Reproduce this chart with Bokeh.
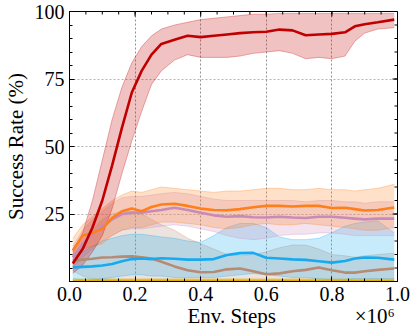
import math
from bokeh.plotting import figure
from bokeh.models import Range1d, ColumnDataSource, FixedTicker
from bokeh.embed import file_html
from bokeh.resources import INLINE

FONT = "Liberation Serif"

steps = [0.01, 0.04, 0.07, 0.10, 0.13, 0.16, 0.19, 0.22, 0.25, 0.28, 0.32, 0.36, 0.40, 0.44,
         0.48, 0.52, 0.56, 0.60, 0.64, 0.68, 0.72, 0.76, 0.80, 0.84, 0.87, 0.90, 0.94, 0.99]

red_mean = [6.7, 12, 20, 30, 43, 57, 70, 78, 84, 88, 89.5, 91, 90.5, 91, 91.5, 92, 92.3, 92.5,
            93.3, 93, 91.2, 91.5, 91.7, 92.3, 94.5, 95.3, 96, 97]
red_hi = [11, 18, 30, 45, 60, 72, 81, 87, 91, 93.5, 95, 96, 97, 97.5, 98, 98.5, 99, 99,
          99.3, 99.3, 99.3, 99.3, 99.3, 99.3, 99.3, 99.3, 99.3, 99.3]
red_lo = [3, 6, 11, 17, 27, 40, 52, 63, 73, 78, 82, 84, 83, 83, 83, 83.5, 84.5, 85,
          85.5, 84.5, 82.5, 83, 82.5, 83.5, 89, 92, 93.5, 94]

orange_mean = [11.5, 17, 18, 19.5, 23.5, 26, 27, 26, 27.6, 28.5, 28.8, 28, 27, 26.5, 26.4, 26.8,
               27.5, 28, 28, 27.8, 28, 28, 27.2, 27.3, 26.8, 26.3, 26.5, 27.4]
orange_hi = [16, 21, 24, 27, 30, 32, 33.5, 33, 34, 35, 34.5, 34, 33.5, 33, 33.5, 33.5, 34, 34.5,
             34.5, 34, 34, 34.5, 34, 34, 33.5, 34, 34.5, 36]
orange_lo = [9, 12, 13, 14, 17, 19, 20, 20, 21, 22, 22, 21.5, 21, 20, 19.5, 20, 21, 21.5,
             21, 21, 21.5, 21, 20.5, 20, 19.5, 19, 19, 20]

pink_mean = [9, 14, 17.5, 20.5, 23, 25, 25.5, 25.5, 26, 26.5, 27.3, 26.5, 25.5, 24.5, 24, 24.2,
             23.8, 23.7, 24, 23.7, 23.5, 24, 24, 23.6, 23.3, 23, 23.3, 23.3]
pink_hi = [13, 19, 23, 26, 29, 31, 31.5, 31.5, 32, 32.5, 33, 32.5, 31.5, 30.5, 30, 30, 30, 30,
           30, 30, 29.5, 30, 30, 29.5, 29.5, 29, 29.5, 29.5]
pink_lo = [5, 9, 12, 15, 17, 19, 19.5, 19.5, 20, 20.5, 21, 20.5, 19.5, 18.5, 17, 16, 15.5, 16,
           17, 17.5, 17.5, 18, 18, 17.5, 17, 17, 17, 17]

blue_mean = [5.2, 5.4, 5.6, 5.9, 6.5, 7.5, 8.3, 8.5, 8.3, 8.6, 8.4, 8.1, 8.1, 8.3, 9.8, 10.5,
             10.6, 8.8, 8.5, 8.2, 8.0, 7.5, 7.0, 7.6, 8.5, 8.9, 8.8, 8.1]
blue_hi = [9, 11, 13, 15, 16, 17, 17.5, 17.5, 17, 16.5, 16, 15, 14.5, 17, 20, 21.5, 21.5, 20,
           16.5, 15.5, 15.5, 16, 18, 20.5, 21.5, 22, 22.5, 18]
blue_lo = [1, 0.5, 0.5, 1, 1.5, 2, 2.5, 2.5, 2, 2, 1.5, 1.5, 1.5, 1.5, 2, 2.5, 3, 2.5,
           2, 1.5, 1.5, 1, 0.5, 0.5, 1, 1, 1, 1]

tan_mean = [7.8, 8.1, 8.4, 8.9, 9.0, 9.2, 9.3, 9.0, 8.5, 7.3, 5.6, 4.2, 3.4, 3.5, 4.5, 4.8,
            3.8, 2.7, 3.0, 3.8, 4.3, 5.2, 4.2, 3.3, 3.3, 3.8, 4.3, 4.8]
tan_hi = [10, 14, 19, 23, 25, 26, 26, 25, 23, 21, 19, 16, 14, 12, 10, 9.5, 10, 11,
          12.5, 13.5, 13.5, 12, 10, 9.5, 9, 9.5, 10, 10.5]
tan_lo = [4, 2, 1, 0.5, 0.5, 0.5, 0.5, 0.5, 0.5, 0.5, 0.3, 0.3, 0.3, 0.3, 0.3, 0.3, 0.3, 0.3,
          0.3, 0.3, 0.3, 0.3, 0.3, 0.3, 0.3, 0.3, 0.3, 0.3]

gold_mean = [0.3] * len(steps)
gold_hi = [1.0] * len(steps)
gold_lo = [0.0] * len(steps)

series = [
    ("gold", "#e0ad00", gold_mean, gold_lo, gold_hi),
    ("tan", "#b58b73", tan_mean, tan_lo, tan_hi),
    ("blue", "#17aaee", blue_mean, blue_lo, blue_hi),
    ("pink", "#c98ab8", pink_mean, pink_lo, pink_hi),
    ("orange", "#ff7f1a", orange_mean, orange_lo, orange_hi),
    ("red", "#c00000", red_mean, red_lo, red_hi),
]

x_ticks = [0.0, 0.2, 0.4, 0.6, 0.8, 1.0]
y_ticks = [25, 50, 75, 100]
x_minor = [i * 0.05 for i in range(21)]
y_minor = [i * 5 for i in range(21)]
x_min, x_max = 0.0, 1.0
y_min, y_max = 0.0, 100.0

x_label = "Env. Steps"
x_scale_note = "×10⁶"
y_label = "Success Rate (%)"

p = figure(width=415, height=332, output_backend="svg", toolbar_location=None,
           x_range=Range1d(x_min, x_max), y_range=Range1d(y_min, y_max),
           min_border_left=65, min_border_right=18, min_border_top=11, min_border_bottom=51)
p.background_fill_color = "white"
p.border_fill_color = "white"
p.outline_line_color = "black"
p.outline_line_width = 1

for name, color, m, lo, hi in series:
    src = ColumnDataSource(dict(x=steps, m=m, lo=lo, hi=hi))
    p.varea(x="x", y1="lo", y2="hi", source=src, fill_color=color, fill_alpha=0.24)
    p.line(x="x", y="lo", source=src, line_color=color, line_alpha=0.3, line_width=1)
    p.line(x="x", y="hi", source=src, line_color=color, line_alpha=0.3, line_width=1)
for name, color, m, lo, hi in series:
    src = ColumnDataSource(dict(x=steps, m=m))
    p.line(x="x", y="m", source=src, line_color=color, line_width=2.6)

for ax in (p.xaxis[0], p.yaxis[0]):
    ax.axis_line_color = "black"
    ax.major_tick_in = 5
    ax.major_tick_out = 0
    ax.minor_tick_in = 3
    ax.minor_tick_out = 0
    ax.major_tick_line_color = "black"
    ax.minor_tick_line_color = "black"
    ax.major_label_text_font = FONT
    ax.major_label_text_font_size = "20px"
    ax.major_label_text_color = "black"
    ax.axis_label_text_font = FONT
    ax.axis_label_text_font_size = "21px"
    ax.axis_label_text_font_style = "normal"
    ax.axis_label_text_color = "black"

xa = p.xaxis[0]
ya = p.yaxis[0]
xa.ticker = FixedTicker(ticks=x_ticks, minor_ticks=x_minor)
ya.ticker = FixedTicker(ticks=y_ticks, minor_ticks=y_minor)
xa.major_label_standoff = 5
ya.major_label_standoff = 5
# the x10^6 multiplier shares the x-axis label row, pushed to the right edge
NBSP = "\u00a0"
xa.axis_label = NBSP * 22 + x_label + NBSP * 15 + x_scale_note
ya.axis_label = y_label
xa.axis_label_standoff = 0
ya.axis_label_standoff = 4
xa.major_label_overrides = {0.0: "0.0", 1.0: "1.0"}

# mirrored inward ticks on the top and right frame edges
p.ray(x=x_ticks, y=[y_max] * len(x_ticks), length=5, length_units="screen",
      angle=-math.pi / 2, line_color="black", line_width=1)
p.ray(x=x_minor, y=[y_max] * len(x_minor), length=3, length_units="screen",
      angle=-math.pi / 2, line_color="black", line_width=1)
p.ray(x=[x_max] * len(y_ticks), y=y_ticks, length=5, length_units="screen",
      angle=math.pi, line_color="black", line_width=1)
p.ray(x=[x_max] * len(y_minor), y=y_minor, length=3, length_units="screen",
      angle=math.pi, line_color="black", line_width=1)

p.xgrid.ticker = FixedTicker(ticks=[0.2, 0.4, 0.6, 0.8])
p.ygrid.ticker = FixedTicker(ticks=[25, 50, 75])
p.xgrid.grid_line_color = "#555555"
p.ygrid.grid_line_color = "#777777"
p.xgrid.grid_line_dash = "2 2"
p.ygrid.grid_line_dash = "2 2"
p.xgrid.grid_line_width = 0.8
p.ygrid.grid_line_width = 0.8
p.xgrid.grid_line_alpha = 0.8
p.ygrid.grid_line_alpha = 0.7

open("out.html", "w").write(file_html(p, INLINE))
